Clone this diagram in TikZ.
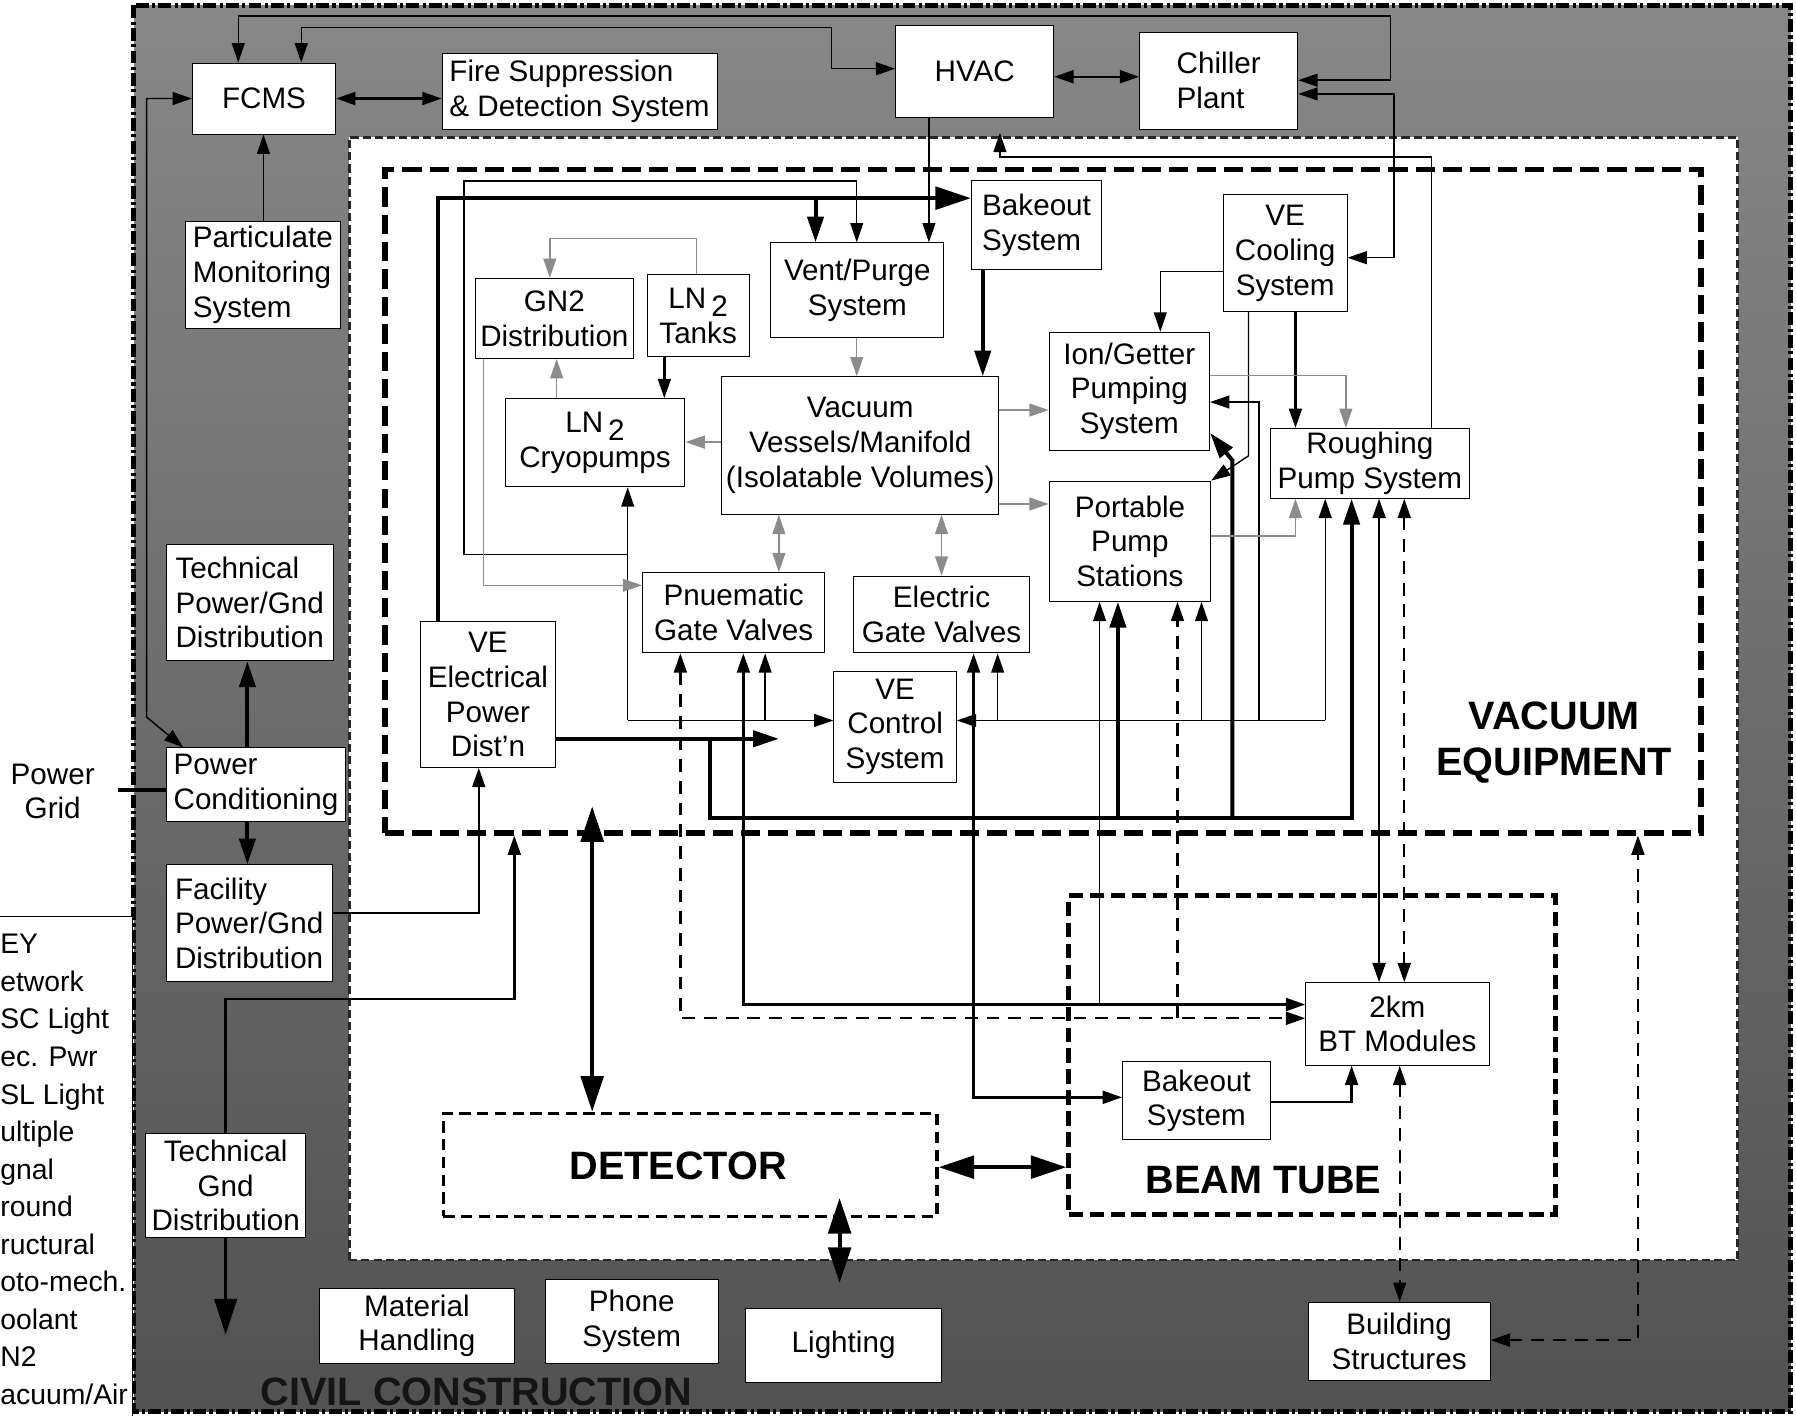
\documentclass[tikz,border=0pt]{standalone}
\usepackage{fontspec}
\setmainfont{Liberation Sans}
\usetikzlibrary{arrows.meta,fit}
% box: name, x1, y1, x2, y2, alignment, text
\newcommand\Bx[7]{\node[box,align=#6,minimum width={(#4-#2)*0.025cm},minimum height={(#5-#3)*0.025cm}] (#1) at ({(#2+#4)/2},{(#3+#5)/2}) {#7};}
\begin{document}
\begin{tikzpicture}[x=0.025cm,y=-0.025cm,
  every node/.style={font=\fontsize{18.4}{21.6}\selectfont},
  box/.style={draw,line width=0.6pt,fill=white,inner sep=0pt},
  lbl/.style={font=\fontsize{24.6}{28.4}\selectfont\bfseries,align=center,inner sep=0pt},
  Ts/.tip={Triangle[length=12pt,width=8pt]},
  Tm/.tip={Triangle[length=16pt,width=10pt]},
  Tl/.tip={Triangle[length=22pt,width=14pt]},
  thn/.style={line width=0.9pt},
  med/.style={line width=1.5pt},
  thk/.style={line width=2.5pt},
  gry/.style={line width=0.9pt,color=black!45},
  dsh/.style={line width=1.4pt,dash pattern=on 8pt off 5.5pt},
  region/.style={inner sep=0pt},
]
\useasboundingbox (0,0) rectangle (1568,1236);
% ---------- regions ----------
\node[region,fit={(117,5)(1563,1232)},shading=axis,top color=black!47,bottom color=black!68] (civil) {};
\draw[line width=2.8pt,dash pattern=on 8pt off 2pt on 2pt off 2pt] (civil.north west) rectangle (civil.south east);
\node[region,fit={(305,120)(1517,1100)},fill=white,draw=black!85,line width=1.6pt,dash pattern=on 5pt off 2.5pt] (inner) {};
\node[region,fit={(336,148)(1485,727)},draw,line width=3.5pt,dash pattern=on 12pt off 5pt] (vebox) {};
\node[region,fit={(387,972)(818,1062)},draw,line width=2.2pt,dash pattern=on 7pt off 4pt] (det) {};
\node[region,fit={(933,782)(1358,1060)},draw,line width=3pt,dash pattern=on 9pt off 4pt] (beam) {};
\node[region,fit={(-3,800)(116,1240)},draw,fill=white,line width=0.6pt] (key) {};
% ---------- labels ----------
\node[lbl] (velbl) at (1357,648) {VACUUM\\EQUIPMENT};
\node[lbl] (detlbl) at (592,1018) {DETECTOR};
\node[lbl] (btlbl) at (1103,1030) {BEAM TUBE};
\node[lbl,text=black!92] (civlbl) at (416,1215) {CIVIL CONSTRUCTION};
\node[inner sep=0pt,align=center] (grid) at (46,691) {Power\\Grid};
\node[inner sep=0pt,align=left,anchor=base west,font=\fontsize{17.6}{23.3}\selectfont] (keytxt) at (0,1226)
  {EY\\etwork\\SC Light\\ec. Pwr\\SL Light\\ultiple\\gnal\\round\\ructural\\oto-mech.\\oolant\\N2\\acuum/Air};
% ---------- boxes ----------
\Bx{fcms}{168}{55}{293}{117}{center}{FCMS}
\Bx{fire}{386}{47}{626}{113}{left}{Fire Suppression\\\& Detection System}
\Bx{hvac}{782}{22}{920}{103}{center}{HVAC}
\Bx{chiller}{995}{28}{1133}{113}{left}{Chiller\\Plant}
\Bx{partic}{162}{193}{297}{287}{left}{Particulate\\Monitoring\\System}
\Bx{techpwr}{145}{475}{291}{577}{left}{Technical\\Power/Gnd\\Distribution}
\Bx{pwrcond}{145}{653}{302}{717}{left}{Power\\Conditioning}
\Bx{facil}{145}{755}{290}{857}{left}{Facility\\Power/Gnd\\Distribution}
\Bx{techgnd}{127}{990}{267}{1080}{center}{Technical\\Gnd\\Distribution}
\Bx{matl}{279}{1125}{449}{1190}{center}{Material\\Handling}
\Bx{phone}{476}{1117}{627}{1190}{center}{Phone\\System}
\Bx{light}{651}{1142}{822}{1207}{center}{Lighting}
\Bx{bldg}{1142}{1137}{1301}{1205}{center}{Building\\Structures}
\Bx{bake1}{848}{158}{962}{235}{left}{Bakeout\\System}
\Bx{cool}{1068}{170}{1176}{272}{center}{VE\\Cooling\\System}
\Bx{gn2}{415}{243}{553}{313}{center}{GN2\\Distribution}
\Bx{lntank}{565}{240}{654}{311}{center}{LN\,\raisebox{-0.5ex}{2}\\Tanks}
\Bx{vent}{673}{212}{824}{295}{center}{Vent/Purge\\System}
\Bx{ion}{916}{290}{1056}{393}{center}{Ion/Getter\\Pumping\\System}
\Bx{cryo}{441}{348}{598}{425}{center}{LN\,\raisebox{-0.5ex}{2}\\Cryopumps}
\Bx{vv}{630}{329}{872}{449}{center}{Vacuum\\Vessels/Manifold\\(Isolatable Volumes)}
\Bx{rough}{1109}{374}{1283}{435}{center}{Roughing\\Pump System}
\Bx{port}{916}{420}{1057}{525}{center}{Portable\\Pump\\Stations}
\Bx{pgv}{561}{500}{720}{570}{center}{Pnuematic\\Gate Valves}
\Bx{egv}{745}{503}{899}{570}{center}{Electric\\Gate Valves}
\Bx{vepd}{367}{543}{485}{670}{center}{VE\\Electrical\\Power\\Dist’n}
\Bx{vecs}{728}{586}{835}{683}{center}{VE\\Control\\System}
\Bx{bt}{1140}{858}{1300}{930}{center}{2km\\BT Modules}
\Bx{bake2}{980}{927}{1109}{995}{center}{Bakeout\\System}
% ---------- junction coordinates ----------
\coordinate (g1) at (103,690);
\coordinate (tg1) at (197,1165);
\coordinate (hv1) at (873,116);
\coordinate (p1) at (680,645);
\coordinate (j484) at (548,484);
\coordinate (j629) at (548,629);
\coordinate (j668) at (668,629);
\coordinate (jr) at (1157,629);
\coordinate (j871) at (871,629);
\coordinate (j1049) at (1049,629);
\coordinate (j1099) at (1099,629);
\coordinate (j712) at (712,173);
\coordinate (jp) at (620,645);
\coordinate (j976) at (976,714);
\coordinate (j1076) at (1076,714);
\coordinate (j1028) at (1028,889);
\coordinate (j960) at (960,877);
\coordinate (v1) at (517,704);
\coordinate (l1) at (733,1046);
\coordinate (l2) at (733,1120);
% ---------- civil construction connectors ----------
\draw[thn,Ts-Ts] (208,0 |- fcms.north) -- (208,14) -- (1214,14) -- (1214,70) -- (chiller.east |- 0,70);
\draw[thn,Ts-Ts] (263,0 |- fcms.north) -- (263,24) -- (726,24) -- (726,60) -- (hvac.west |- 0,60);
\draw[thn,Ts-Ts] (160,0 |- pwrcond.north) -- (128,626) -- (128,86) -- (fcms.west |- 0,86);
\draw[med,Ts-Ts] (fcms.east |- 0,86) -- (fire.west |- 0,86);
\draw[med,Ts-Ts] (hvac.east |- 0,67) -- (chiller.west |- 0,67);
\draw[thn,-Ts] (230,0 |- partic.north) -- (230,0 |- fcms.south);
\draw[thn,Ts-Ts] (chiller.east |- 0,82) -- (1217,82) -- (1217,225) -- (cool.east |- 0,225);
\draw[thk,-Tm] (216,0 |- pwrcond.north) -- (216,0 |- techpwr.south);
\draw[thk,-Tm] (216,0 |- pwrcond.south) -- (216,0 |- facil.north);
\draw[thk] (g1) -- (pwrcond.west |- g1);
\draw[med,-Ts] (facil.east |- 0,797) -- (418,797) -- (418,0 |- vepd.south);
\draw[med,-Ts] (197,0 |- techgnd.north) -- (197,872) -- (449,872) -- (449,0 |- vebox.south);
\draw[med,-Tl] (197,0 |- techgnd.south) -- (tg1);
% ---------- vacuum equipment connectors ----------
\draw[thk,-Tl] (382,0 |- vepd.north) -- (382,173) -- (bake1.west |- 0,173);
\draw[thk,-Tm] (j712) -- (712,0 |- vent.north);
\draw[thn,-Ts] (j484) -- (405,484) -- (405,158) -- (748,158) -- (748,0 |- vent.north);
\draw[thn,-Ts] (j629) -- (548,0 |- cryo.south);
\draw[thn,-Ts] (j629) -- (vecs.west |- j629);
\draw[thn,-Ts] (j668) -- (668,0 |- pgv.south);
\draw[thn,-Ts] (jr) -- (vecs.east |- jr);
\draw[thn,-Ts] (j871) -- (871,0 |- egv.south);
\draw[thn,-Ts] (j1049) -- (1049,0 |- port.south);
\draw[thn,-Ts] (j1099) -- (1099,351) -- (ion.east |- 0,351);
\draw[thn,-Ts] (jr) -- (1157,0 |- rough.south);
\draw[thk,-Tm] (vepd.east |- p1) -- (p1);
\draw[thk,-Tm] (jp) -- (620,714) -- (1180,714) -- (1180,0 |- rough.south);
\draw[thk,-Tm] (j976) -- (976,0 |- port.south);
\draw[thk,-Tm] (j1076) -- (1076,402) -- (ion.east |- 0,378);
\draw[thn,-Ts] (cool.west |- 0,237) -- (1013,237) -- (1013,0 |- ion.north);
\draw[med,-Ts] (1131,0 |- cool.south) -- (1131,0 |- rough.north);
\draw[thn,-Ts] (1090,0 |- cool.south) -- (1090,398) -- (port.north east);
\draw[gry,-Ts] (ion.east |- 0,328) -- (1175,328) -- (1175,0 |- rough.north);
\draw[gry,-Ts] (port.east |- 0,468) -- (1131,468) -- (1131,0 |- rough.south);
\draw[gry,-Ts] (vv.east |- 0,358) -- (ion.west |- 0,358);
\draw[gry,-Ts] (vv.east |- 0,440) -- (port.west |- 0,440);
\draw[gry,-Ts] (748,0 |- vent.south) -- (748,0 |- vv.north);
\draw[gry,-Ts] (608,0 |- lntank.north) -- (608,208) -- (480,208) -- (480,0 |- gn2.north);
\draw[gry,-Ts] (486,0 |- cryo.north) -- (486,0 |- gn2.south);
\draw[gry,-Ts] (vv.west |- 0,386) -- (cryo.east |- 0,386);
\draw[gry,-Ts] (422,0 |- gn2.south) -- (422,511) -- (pgv.west |- 0,511);
\draw[gry,Ts-Ts] (680,0 |- vv.south) -- (680,0 |- pgv.north);
\draw[gry,Ts-Ts] (822,0 |- vv.south) -- (822,0 |- egv.north);
\draw[thn,-Ts] (1250,0 |- rough.north) -- (1250,137) -- (873,137) -- (hv1);
\draw[thn,-Ts] (811,0 |- hvac.south) -- (811,0 |- vent.north);
\draw[thk,-Tm] (858,0 |- bake1.south) -- (858,0 |- vv.north);
\draw[med,-Ts] (580,0 |- lntank.south) -- (580,0 |- cryo.north);
% ---------- to beam tube ----------
\draw[dsh,Ts-Ts] (594,0 |- pgv.south) -- (594,889) -- (bt.west |- 0,889);
\draw[dsh,-Ts] (j1028) -- (1028,0 |- port.south);
\draw[med,Ts-Ts] (649,0 |- pgv.south) -- (649,877) -- (bt.west |- 0,877);
\draw[thn,-Ts] (j960) -- (960,0 |- port.south);
\draw[med,Ts-Ts] (850,0 |- egv.south) -- (850,958) -- (bake2.west |- 0,958);
\draw[med,-Ts] (bake2.east |- 0,962) -- (1180,962) -- (1180,0 |- bt.south);
\draw[dsh,Ts-Ts] (1222,0 |- bt.south) -- (1222,0 |- bldg.north);
\draw[med,Ts-Ts] (1204,0 |- rough.south) -- (1204,0 |- bt.north);
\draw[dsh,Ts-Ts] (1226,0 |- rough.south) -- (1226,0 |- bt.north);
\draw[dsh,Ts-Ts] (bldg.east |- 0,1170) -- (1430,1170) -- (1430,0 |- vebox.south);
% ---------- big arrows ----------
\draw[thk,Tl-Tl] (v1) -- (517,0 |- det.north);
\draw[thk,Tl-Tl] (det.east |- 0,1019) -- (beam.west |- 0,1019);
\draw[thk,Tl-Tl] (l1) -- (l2);
\end{tikzpicture}
\end{document}
